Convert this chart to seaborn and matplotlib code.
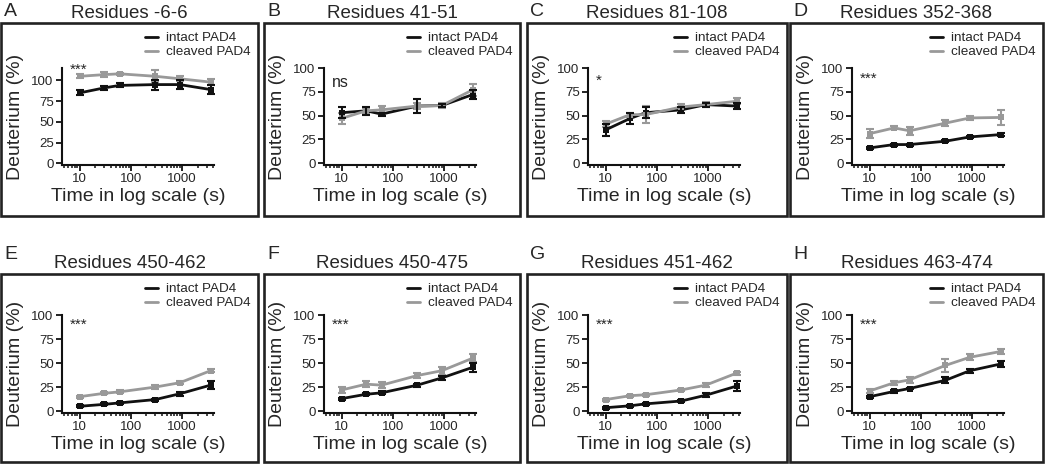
import matplotlib
matplotlib.use("Agg")
import numpy as np
import pandas as pd
import matplotlib.pyplot as plt
import seaborn as sns
from matplotlib.patches import Rectangle
from matplotlib.lines import Line2D
from matplotlib.ticker import FixedLocator, FuncFormatter

# Deuterium uptake data
times = [10, 30, 60, 300, 900, 3600]
letters = ["A", "B", "C", "D", "E", "F", "G", "H"]
titles = ["Residues -6-6", "Residues 41-51", "Residues 81-108", "Residues 352-368",
          "Residues 450-462", "Residues 450-475", "Residues 451-462", "Residues 463-474"]
stats = ["***", "ns", "*", "***", "***", "***", "***", "***"]

intact_mean = [
    [85, 91, 94, 95, 95, 89],
    [53, 55, 51.5, 60, 60.5, 72],
    [35, 47, 53, 56, 61.5, 60],
    [16, 19.5, 19.5, 23, 27.5, 30],
    [5, 7, 8.5, 12, 18, 27],
    [13, 17.5, 19, 27, 34.5, 45.5],
    [3.5, 5.5, 7.5, 10.5, 16.5, 26],
    [15, 20.5, 23.5, 32, 42, 49],
]
intact_err = [
    [3, 2.5, 2.5, 6, 5, 5],
    [6, 4, 1.5, 7, 2, 5],
    [6, 6, 6, 3, 2, 3],
    [1, 1, 1, 1, 1.5, 1.5],
    [1, 1, 1, 1, 2, 4.5],
    [1, 1, 1.5, 1.5, 2, 5],
    [1, 1, 1, 1, 2, 5],
    [1, 1.5, 1, 3, 2, 3],
]
cleaved_mean = [
    [105, 107, 108, 105, 102, 98],
    [47, 55, 56, 60, 60.5, 77],
    [41, 51, 51, 59, 61.5, 65],
    [31, 37, 34, 42, 47.5, 48],
    [15, 18.5, 20, 25, 29.5, 42],
    [22, 28, 27, 37, 42, 55],
    [12, 16, 17, 22, 27, 39.5],
    [21, 29.5, 32.5, 47.5, 56, 62],
]
cleaved_err = [
    [2.5, 3, 1, 7, 3, 4],
    [6, 3, 4, 3, 3, 6],
    [3, 2, 9, 3, 3, 3],
    [5, 1.5, 4, 3, 2, 8],
    [1, 1, 1.5, 2, 1.5, 1.5],
    [3, 3, 3, 3, 4, 4],
    [1, 1, 1, 1.5, 2, 1.5],
    [2, 2, 3, 7, 3, 3],
]

sns.set_style("ticks")
plt.rcParams["font.family"] = ["Liberation Sans", "DejaVu Sans"]

black = "#111111"
gray = "#999999"
W, H = 1050, 465
fig = plt.figure(figsize=(10.5, 4.65), dpi=100)

box_x = [(1, 258), (264, 520), (527, 787), (790, 1043)]
box_y = [(23, 216), (274, 462)]
letter_y = [12, 254]
title_y = [14, 263]
ax_left = [62, 324, 588, 852]
ax_w = 152
ax_y = [(68, 165), (315, 413)]
stat_y = [1.05, 0.93, 0.94, 0.96, 0.97, 0.97, 0.97, 0.97]

for i in range(8):
    r, c = divmod(i, 4)
    x0, x1 = box_x[c]
    y0, y1 = box_y[r]
    fig.add_artist(Rectangle((x0 / W, 1 - y1 / H), (x1 - x0) / W, (y1 - y0) / H,
                             transform=fig.transFigure, fill=False, lw=1.9, ec="#222222"))
    fig.text((x0 + 3) / W, 1 - letter_y[r] / H, letters[i], fontsize=14, ha="left", va="center")
    fig.text((x0 + x1) / 2 / W, 1 - title_y[r] / H, titles[i], fontsize=13.5,
             ha="center", va="center")

    a0, a1 = ax_y[r]
    ax = fig.add_axes([ax_left[c] / W, 1 - a1 / H, ax_w / W, (a1 - a0) / H])

    df = pd.DataFrame({
        "time": times * 2,
        "deut": intact_mean[i] + cleaved_mean[i],
        "sample": ["intact PAD4"] * 6 + ["cleaved PAD4"] * 6,
    })
    sns.lineplot(data=df, x="time", y="deut", hue="sample",
                 palette={"intact PAD4": black, "cleaved PAD4": gray},
                 marker="s", markersize=4.5, markeredgewidth=0, linewidth=2,
                 ax=ax, legend=False, zorder=3)
    ax.errorbar(times, cleaved_mean[i], yerr=cleaved_err[i], fmt="none", ecolor=gray,
                elinewidth=1.5, capsize=3, capthick=1.5, zorder=2)
    ax.errorbar(times, intact_mean[i], yerr=intact_err[i], fmt="none", ecolor=black,
                elinewidth=1.5, capsize=3, capthick=1.5, zorder=4)

    ax.set_xscale("log")
    ax.set_xlim(4.5, 4200)
    ax.set_ylim(-2, 115 if i == 0 else 100)
    ax.set_yticks([0, 25, 50, 75, 100])
    ax.xaxis.set_major_locator(FixedLocator([10, 100, 1000]))
    ax.xaxis.set_major_formatter(FuncFormatter(lambda v, p: f"{int(v)}"))
    ax.tick_params(axis="both", which="major", direction="out", length=4, width=1.3,
                   labelsize=9.5, pad=2, color=black)
    ax.tick_params(axis="x", which="minor", direction="out", length=2.5, width=1.1, color=black)
    for s in ["left", "bottom"]:
        ax.spines[s].set_linewidth(1.5)
        ax.spines[s].set_color(black)
    sns.despine(ax=ax)
    ax.set_xlabel("Time in log scale (s)", fontsize=14, labelpad=2)
    ax.set_ylabel("Deuterium (%)", fontsize=14, labelpad=5)
    ax.set_facecolor("none")

    ax.text(0.05, stat_y[i], stats[i], transform=ax.transAxes, ha="left", va="top",
            fontsize=11.5 if stats[i] == "ns" else 11)

    handles = [Line2D([], [], color=black, lw=2), Line2D([], [], color=gray, lw=2)]
    ax.legend(handles, ["intact PAD4", "cleaved PAD4"], loc="upper right",
              bbox_to_anchor=((x1 - 7) / W, 1 - (y0 + 9) / H), bbox_transform=fig.transFigure,
              frameon=False, fontsize=9.7, handlelength=1.0, handletextpad=0.6,
              labelspacing=0.12, borderpad=0, borderaxespad=0)

fig.savefig("out.png", dpi=100)
